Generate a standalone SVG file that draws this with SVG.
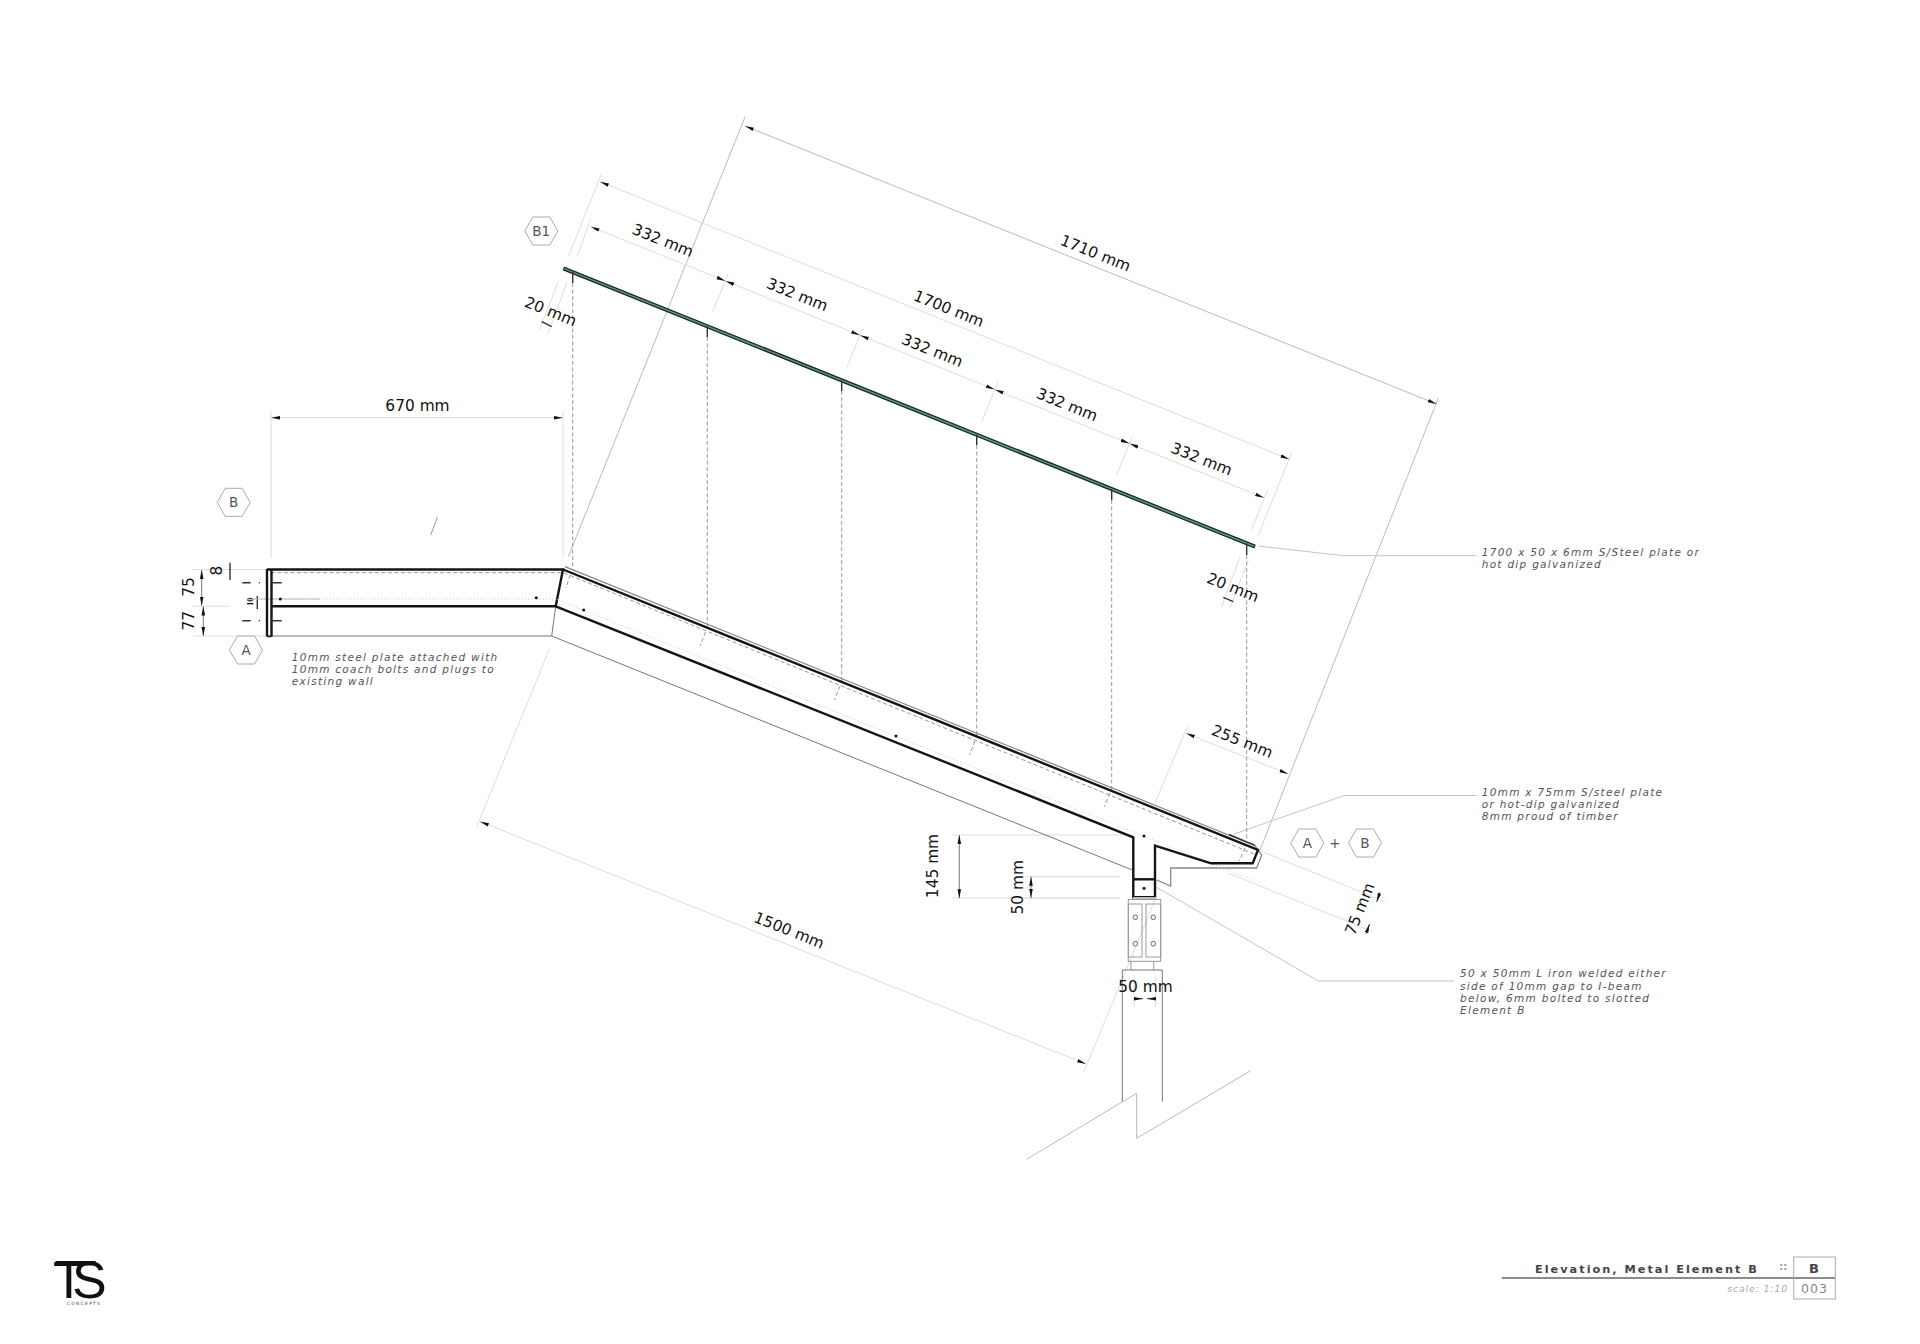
<svg xmlns="http://www.w3.org/2000/svg" width="1920" height="1344" viewBox="0 0 1920 1344">
<style>
text{font-family:"DejaVu Sans","Liberation Sans",sans-serif}
.dt{font-size:15.4px;fill:#111;text-anchor:middle;dominant-baseline:central}
.note{font-size:10.5px;font-style:italic;fill:#555;letter-spacing:1.29px}
.tag{font-size:13.5px;fill:#555;text-anchor:middle;dominant-baseline:central}
.dim{stroke:#ddd;stroke-width:1;fill:none;marker-start:url(#ar);marker-end:url(#ar)}
.dimd{stroke:#bbb;stroke-width:1;fill:none;marker-start:url(#ar);marker-end:url(#ar)}
.ext{stroke:#ddd;stroke-width:1;fill:none}
.extd{stroke:#bbb;stroke-width:1;fill:none}
.lead{stroke:#c4c4c4;stroke-width:1;fill:none}
.bold{stroke:#151515;stroke-width:2.4;fill:none;stroke-linejoin:miter}
.thin{stroke:#777;stroke-width:1;fill:none}
.part{stroke:#999;stroke-width:1;fill:none}
.step{stroke:#888;stroke-width:1.3;fill:none}
.dash{stroke:#999;stroke-width:1;fill:none;stroke-dasharray:4 2.5}
.dot{stroke:#ccc;stroke-width:1;fill:none;stroke-dasharray:1 2}
.tick{stroke:#333;stroke-width:1.4;fill:none}
.hole{fill:#fff;stroke:#666;stroke-width:1}
</style>
<defs>
<marker id="ar" markerUnits="userSpaceOnUse" markerWidth="10" markerHeight="6" refX="9" refY="3" orient="auto-start-reverse"><path d="M0 1.2L9 3L0 4.8Z" fill="#111"/></marker>
<polygon id="hex" points="-16.5,0 -8.5,-14 8.5,-14 16.5,0 8.5,14 -8.5,14" fill="#fff" stroke="#aaa" stroke-width="1"/>
</defs>
<rect width="1920" height="1344" fill="#fff"/>

<g id="connectors">
<path class="extd" d="M745 117L568.3 556.7"/>
<path class="extd" d="M1438.3 398L1260 850"/>
<path class="ext" d="M549.3 649.3L477 826"/>
<path class="ext" d="M1155 900L1084 1071.7"/>
<path class="ext" d="M1187.7 726L1155 803"/>
<path class="ext" d="M601.7 173.3L568.3 256.7"/>
<path class="ext" d="M1291.7 452.7L1258.3 535"/>
<path class="ext" d="M590.7 218.3L577.3 256.7"/>
<path class="ext" d="M728.3 273.3L712.7 311.7"/>
<path class="ext" d="M863 328L847 367"/>
<path class="ext" d="M998 382L982 421"/>
<path class="ext" d="M1132 437L1116.7 475"/>
<path class="ext" d="M1267.7 490L1251.7 529.3"/>
<path class="ext" d="M558.3 281.7L539.3 330"/>
<path class="ext" d="M566.7 283L548.3 333"/>
<path class="ext" d="M1240 556.7L1221.7 606.7"/>
<path class="ext" d="M1248.3 560L1230 608"/>
<path class="ext" d="M271 411V558M563 411V558" stroke-width="1.4"/>
<path class="ext" d="M193 569.5H266M193 606.3H230M193 636H266"/>
<path class="ext" d="M951.7 835H1133M951.7 898H1120"/>
<path class="ext" d="M1025 876.7H1120M1025 898H1120"/>
<path class="ext" d="M1134 975V1007M1155.7 975V1007"/>
<path class="ext" d="M1228 873L1373 931.7M1260 850.7L1385 901.7"/>
<path class="part" d="M430.7 535L437.3 517.3" stroke="#bbb"/>

<line class="dim" x1="271" y1="417.7" x2="563" y2="417.7" stroke-width="1.4"/>
<line class="dimd" x1="745" y1="126" x2="1436.7" y2="404"/>
<line class="dim" x1="600" y1="181.7" x2="1289.3" y2="459.3"/>
<line class="dim" x1="590.7" y1="226.7" x2="725.4" y2="280.9"/>
<line class="dim" x1="725.4" y1="280.9" x2="860" y2="335.3"/>
<line class="dim" x1="860" y1="335.3" x2="994.8" y2="389.5"/>
<line class="dim" x1="994.8" y1="389.5" x2="1129.5" y2="443.6"/>
<line class="dim" x1="1129.5" y1="443.6" x2="1264" y2="497.7"/>
<line class="dim" x1="1186" y1="733.3" x2="1288.3" y2="774"/>
<line class="dim" x1="480" y1="821.6" x2="1086" y2="1064"/>
<line class="thin" style="marker-start:url(#ar);marker-end:url(#ar)" x1="959.3" y1="835" x2="959.3" y2="898.3"/>
<line class="thin" style="marker-start:url(#ar);marker-end:url(#ar)" x1="1031" y1="876.7" x2="1031" y2="898"/>
<line class="thin" style="marker-start:url(#ar);marker-end:url(#ar)" x1="201.7" y1="570" x2="201.7" y2="605.7"/>
<line class="thin" style="marker-start:url(#ar);marker-end:url(#ar)" x1="203.3" y1="606.5" x2="203.3" y2="636"/>
<line class="tick" x1="230" y1="562.7" x2="230" y2="580" stroke-width="2"/>
<line class="tick" x1="257.3" y1="596" x2="257.3" y2="609" stroke-width="2"/>
<line class="tick" x1="541.7" y1="321.7" x2="551.7" y2="326.7" stroke-width="2"/>
<line class="tick" x1="1223.3" y1="597.3" x2="1233.3" y2="601.7" stroke-width="2"/>
<line style="marker-end:url(#ar)" x1="1134" y1="998.7" x2="1143" y2="998.7" stroke="#555"/>
<line style="marker-end:url(#ar)" x1="1155.7" y1="998.7" x2="1147" y2="998.7" stroke="#555"/>
<line style="marker-end:url(#ar)" x1="1380" y1="892" x2="1376.7" y2="902" stroke="#555"/>
<line style="marker-end:url(#ar)" x1="1366" y1="934" x2="1369.5" y2="924" stroke="#555"/>
<path class="lead" d="M1258.3 546L1343.3 555.7H1476.7"/>
<path class="lead" d="M1233.3 834.3L1344.3 795.5H1476.7"/>
<path class="lead" d="M1156.7 887.3L1318.3 981H1454"/>
</g>

<g id="element-b1-plate">
<line x1="563.3" y1="268.3" x2="1255" y2="546.7" stroke="#222" stroke-width="4"/>
<line x1="564" y1="268.6" x2="1254" y2="546.3" stroke="#4f9c8e" stroke-width="1.5"/>
<path class="tick" d="M572.7 272V283M707.3 326.3V337M841.7 380.4V391M976.7 434.7V445M1111.7 489V500M1246.7 543.4V555"/>
<path class="dash" d="M572.7 283V570M707.3 337V627M841.7 391V681M976.7 445V736M1111.7 500V792M1246.7 555V840"/>
<path class="dash" d="M570 575L566 588M705.5 632L700 646M840 686L834.5 700M975 741L969.5 755M1110 793L1104.3 806.7M1245 848L1239.3 861"/>
</g>

<g id="element-a-wall">
<path class="thin" d="M267 636H551.7L555.7 606.3"/>
<path class="dash" d="M271 572.7H563" stroke="#aaa"/>
<path class="dot" d="M252 599H556"/>
<line x1="252" y1="599" x2="320" y2="599" stroke="#bbb" stroke-width="1"/>
<path class="bold" d="M267 569.5H563L555.7 606.3H271.5"/>
<path class="bold" d="M267 569V636.5M271.5 569V636.5"/>
<path d="M267 636.5H271.5" stroke="#151515" stroke-width="1.5"/>
<path class="tick" d="M242.3 582.7H250.7M271 582.7H281.7M242.3 620.7H250.7M271 620.7H281.7"/>
<circle cx="259.3" cy="582.7" r=".7" fill="#333"/>
<circle cx="259.3" cy="620.7" r=".7" fill="#333"/>
<circle cx="280.3" cy="599" r="1.5" fill="#111"/>
<circle cx="536.3" cy="597.7" r="1.5" fill="#111"/>
</g>

<g id="element-b-beam">
<path class="step" d="M565 566.7L1255 845.7L1261.7 855L1256.7 868H1170.7V886L1156.7 880"/>
<path class="dash" d="M564 573L1256.7 855" stroke="#aaa"/>
<path class="dot" d="M556.7 599.3L1255 881"/>
<path class="thin" d="M551.7 636L1132.3 870"/>
<path class="bold" d="M555.7 606.3L1133.3 837.3V897.3H1155V845.7L1211 863.3H1252.7L1258 850L563 569.5"/>
<path class="bold" d="M1133.3 879.3H1155"/>
<path class="tick" d="M1229 834.5L1255 845.3" stroke="#666"/>
<circle cx="583.7" cy="610" r="1.5" fill="#111"/>
<circle cx="896" cy="736" r="1.5" fill="#111"/>
<circle cx="1144" cy="836" r="1.5" fill="#111"/>
<circle cx="1144" cy="888.3" r="1.5" fill="#111"/>
</g>

<g id="post">
<rect x="1133" y="897" width="23" height="3" fill="#bbb"/>
<rect class="part" x="1128.3" y="899.5" width="32.4" height="61.8"/>
<rect class="part" x="1128.3" y="904" width="13.7" height="53"/>
<rect class="part" x="1146" y="904" width="14.7" height="53"/>
<circle class="hole" cx="1135.3" cy="917.3" r="2.3"/>
<circle class="hole" cx="1153.3" cy="917.3" r="2.3"/>
<circle class="hole" cx="1135.3" cy="943.7" r="2.3"/>
<circle class="hole" cx="1153.3" cy="943.7" r="2.3"/>
<path class="part" d="M1131 961.3V970M1153.7 961.3V970"/>
<path class="thin" d="M1122.3 1101.7V970H1162.3V1101.7"/>
<path class="extd" d="M1026.7 1159.3L1136.7 1093.3V1138.3L1250.7 1070.7"/>
</g>

<g id="tag-B"><use href="#hex" x="233.7" y="502.3"/><text class="tag" x="233.7" y="502.3">B</text></g>
<g id="tag-A"><use href="#hex" x="246" y="650"/><text class="tag" x="246" y="650">A</text></g>
<g id="tag-B1"><use href="#hex" x="541.3" y="231"/><text class="tag" x="541.3" y="231">B1</text></g>
<g id="tag-A2"><use href="#hex" x="1307.3" y="843"/><text class="tag" x="1307.3" y="843">A</text></g>
<text class="tag" x="1335" y="843">+</text>
<g id="tag-B2"><use href="#hex" x="1365" y="843"/><text class="tag" x="1365" y="843">B</text></g>

<g id="dimension-labels">
<text class="dt" x="417.5" y="405.5">670 mm</text>
<text class="dt" transform="rotate(21.95 1095.5 253.5)" x="1095.5" y="253.5">1710 mm</text>
<text class="dt" transform="rotate(21.95 948.8 309)" x="948.8" y="309">1700 mm</text>
<text class="dt" transform="rotate(21.95 662.8 240.7)" x="662.8" y="240.7">332 mm</text>
<text class="dt" transform="rotate(21.95 797.2 295)" x="797.2" y="295">332 mm</text>
<text class="dt" transform="rotate(21.95 932.2 350.7)" x="932.2" y="350.7">332 mm</text>
<text class="dt" transform="rotate(21.95 1067 405)" x="1067" y="405">332 mm</text>
<text class="dt" transform="rotate(21.95 1201.5 459.3)" x="1201.5" y="459.3">332 mm</text>
<text class="dt" transform="rotate(21.95 550.5 311.7)" x="550.5" y="311.7">20 mm</text>
<text class="dt" transform="rotate(21.95 1232.8 587.7)" x="1232.8" y="587.7">20 mm</text>
<text class="dt" transform="rotate(21.95 1242.2 741.7)" x="1242.2" y="741.7">255 mm</text>
<text class="dt" transform="rotate(21.95 789 930.6)" x="789" y="930.6">1500 mm</text>
<text class="dt" transform="rotate(-90 932.5 866)" x="932.5" y="866">145 mm</text>
<text class="dt" transform="rotate(-90 1018.5 887.3)" x="1018.5" y="887.3">50 mm</text>
<text class="dt" transform="rotate(-68 1360 909)" x="1360" y="909">75 mm</text>
<text class="dt" x="1145.5" y="986.5">50 mm</text>
<text class="dt" transform="rotate(-90 217.5 570.7)" x="217.5" y="570.7">8</text>
<text class="dt" transform="rotate(-90 189 587)" x="189" y="587">75</text>
<text class="dt" transform="rotate(-90 189.5 620.7)" x="189.5" y="620.7">77</text>
<text class="dt" transform="rotate(-90 250.7 601.7)" x="250.7" y="601.7" style="font-family:'Liberation Serif',serif;font-size:8px;font-weight:bold">10</text>
</g>

<g id="notes">
<text class="note" x="291.7" y="660.7">10mm steel plate attached with</text>
<text class="note" x="291.7" y="673">10mm coach bolts and plugs to</text>
<text class="note" x="291.7" y="685.3">existing wall</text>
<text class="note" x="1481.7" y="556">1700 x 50 x 6mm S/Steel plate or</text>
<text class="note" x="1481.7" y="568.3">hot dip galvanized</text>
<text class="note" x="1481.7" y="795.7">10mm x 75mm S/steel plate</text>
<text class="note" x="1481.7" y="808">or hot-dip galvanized</text>
<text class="note" x="1481.7" y="820.3">8mm proud of timber</text>
<text class="note" x="1460" y="977.3">50 x 50mm L iron welded either</text>
<text class="note" x="1460" y="989.7">side of 10mm gap to I-beam</text>
<text class="note" x="1460" y="1002">below, 6mm bolted to slotted</text>
<text class="note" x="1460" y="1014.3">Element B</text>
</g>

<g id="title-block">
<path d="M1501.7 1278H1835" stroke="#666" stroke-width="1.6"/>
<rect x="1793.7" y="1257" width="41.6" height="42" fill="none" stroke="#aaa" stroke-width="1"/>
<text x="1535" y="1272.7" style="font-size:11.3px;font-weight:bold;fill:#444;letter-spacing:2px">Elevation, Metal Element B</text>
<text x="1783.3" y="1270" text-anchor="middle" style="font-size:10px;font-weight:bold;fill:#999">::</text>
<text x="1814" y="1272.7" text-anchor="middle" style="font-size:13px;font-weight:bold;fill:#444">B</text>
<text x="1788" y="1292.3" text-anchor="end" style="font-size:9.5px;font-style:italic;fill:#aaa;letter-spacing:.8px">scale: 1:10</text>
<text x="1814.5" y="1293.3" text-anchor="middle" style="font-size:12.5px;fill:#888;letter-spacing:1px">003</text>
</g>

<g id="logo">
<rect x="55.7" y="1261" width="40" height="4.3" fill="#111"/>
<text x="53" y="1298" style="font-family:'Liberation Sans',sans-serif;font-size:52px;fill:#111;letter-spacing:-12.8px">TS</text>
<text x="67" y="1304.5" style="font-size:4.4px;fill:#444;letter-spacing:1.3px">CONCEPTS</text>
</g>
</svg>
